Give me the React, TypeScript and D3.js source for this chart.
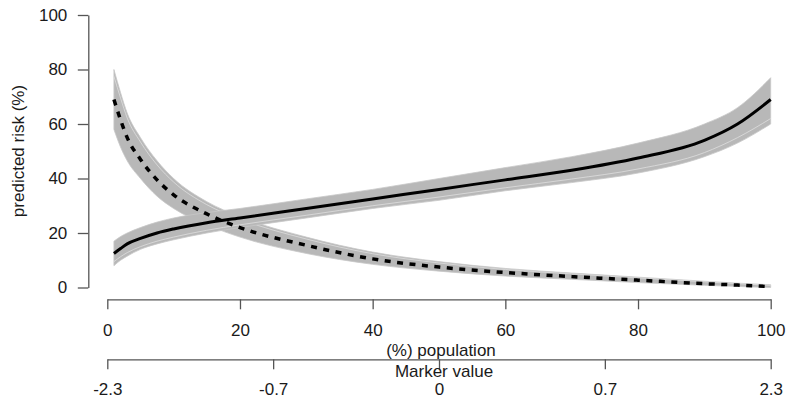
import React, { useEffect, useRef } from 'react';
import * as d3 from 'd3';

// population percentiles where the curves were read
const pct = [1, 2, 3, 5, 7.5, 10, 15, 20, 30, 40, 50, 60, 70, 80, 90, 95, 100];

// increasing curve (solid) and its bootstrap envelope
const riskUp = [12.5, 14.3, 16, 18, 20, 21.5, 23.8, 25.5, 29, 32.5, 36, 39.5, 43, 47.5, 54, 60, 69];
const riskUpHigh = [17, 18.7, 20, 22, 24, 25.5, 27.5, 29, 32.5, 36, 40, 44, 48, 53, 60, 66, 77];
const riskUpLow = [8, 10, 11.5, 14, 16, 17.5, 20, 22, 25.5, 29, 32, 35.5, 38.5, 42, 48, 53, 60];
const riskUpLight = [9.5, 11.3, 12.8, 15, 17, 18.5, 21, 23, 26.5, 30, 33.2, 36.6, 39.8, 43.5, 49.5, 55, 62];

// decreasing curve (dashed) and its bootstrap envelope
const riskDown = [69, 61.5, 55, 47, 39.5, 34, 27, 22, 15.5, 10.5, 7.5, 5.5, 4, 2.7, 1.4, 0.9, 0.3];
const riskDownHigh = [80, 71.5, 64, 55, 46.5, 40, 31.5, 26, 18.5, 13, 9.5, 7, 5.3, 3.8, 2.3, 1.6, 1];
const riskDownLow = [58, 51.5, 46.5, 40, 33.5, 29, 23, 18.5, 12.5, 8.5, 6, 4.2, 3, 1.8, 0.8, 0.4, 0];
const riskDownLight = [77.5, 69.5, 62.2, 53.4, 45, 38.7, 30.4, 25.1, 17.8, 12.4, 9, 6.6, 5, 3.5, 2.1, 1.4, 0.8];

const yTicks = [0, 20, 40, 60, 80, 100];
const xTicks = [0, 20, 40, 60, 80, 100];
const markerTickPct = [0, 25, 50, 75, 100];
const markerTickLabels = ['-2.3', '-0.7', '0', '0.7', '2.3'];

const App: React.FC = () => {
  const svgRef = useRef<SVGSVGElement>(null);

  useEffect(() => {
    if (!svgRef.current) return;
    const svg = d3.select(svgRef.current);
    svg.selectAll('*').remove();

    const font = '"Liberation Sans", Arial, Helvetica, sans-serif';
    const axisColor = '#555';
    const fontSize = '17px';

    const x = d3.scaleLinear().domain([0, 100]).range([107.3, 770.7]);
    const y = d3.scaleLinear().domain([0, 100]).range([287.5, 15]);

    const area = (hi: number[], lo: number[]) =>
      d3
        .area<number>()
        .x((p) => x(p))
        .y0((_, i) => y(lo[i]))
        .y1((_, i) => y(hi[i]))
        .curve(d3.curveMonotoneX)(pct);

    const line = (vals: number[]) =>
      d3
        .line<number>()
        .x((p) => x(p))
        .y((_, i) => y(vals[i]))
        .curve(d3.curveMonotoneX)(pct);

    // bootstrap bands
    [
      [riskDownHigh, riskDownLow, riskDownLight],
      [riskUpHigh, riskUpLow, riskUpLight],
    ].forEach(([hi, lo, light]) => {
      svg
        .append('path')
        .attr('d', area(hi, lo))
        .attr('fill', '#b8b8b8')
        .attr('stroke', '#c8c8c8')
        .attr('stroke-width', 0.8);
      svg
        .append('path')
        .attr('d', line(light))
        .attr('fill', 'none')
        .attr('stroke', '#dedede')
        .attr('stroke-width', 0.8);
    });

    // main curves
    svg
      .append('path')
      .attr('d', line(riskUp))
      .attr('fill', 'none')
      .attr('stroke', '#000')
      .attr('stroke-width', 3);
    svg
      .append('path')
      .attr('d', line(riskDown))
      .attr('fill', 'none')
      .attr('stroke', '#000')
      .attr('stroke-width', 3.5)
      .attr('stroke-dasharray', '6 6.5');

    const styleAxis = (g: d3.Selection<SVGGElement, unknown, null, undefined>) => {
      g.selectAll('path,line').attr('stroke', axisColor).attr('stroke-width', 1.3);
      g.selectAll('text').attr('fill', '#1a1a1a').style('font-family', font).style('font-size', fontSize);
      g.attr('font-size', null).attr('font-family', null);
    };

    // y axis
    svg
      .append('g')
      .attr('transform', 'translate(88.3,0)')
      .call(d3.axisLeft(y).tickValues(yTicks).tickSize(10.5).tickSizeOuter(0).tickPadding(10.5))
      .call(styleAxis);

    // population axis
    svg
      .append('g')
      .attr('transform', 'translate(0,299.3)')
      .call(d3.axisBottom(x).tickValues(xTicks).tickSize(10).tickSizeOuter(0).tickPadding(15))
      .call(styleAxis);

    // marker value axis
    svg
      .append('g')
      .attr('transform', 'translate(0,359.3)')
      .call(
        d3
          .axisBottom(x)
          .tickValues(markerTickPct)
          .tickFormat((_, i) => markerTickLabels[i])
          .tickSize(10)
          .tickSizeOuter(0)
          .tickPadding(14)
      )
      .call(styleAxis);

    // axis titles
    const title = (txt: string, transform: string) =>
      svg
        .append('text')
        .attr('transform', transform)
        .attr('text-anchor', 'middle')
        .style('font-family', font)
        .style('font-size', fontSize)
        .attr('fill', '#1a1a1a')
        .text(txt);

    title('predicted risk (%)', 'translate(24,151) rotate(-90)');
    title('(%) population', 'translate(441,355.5)');
    title('Marker value', 'translate(444,376.5)');
  }, []);

  return (
    <svg
      ref={svgRef}
      width={786}
      height={399}
      style={{ position: 'fixed', left: 0, top: 0, background: '#fff' }}
    />
  );
};

export default App;
